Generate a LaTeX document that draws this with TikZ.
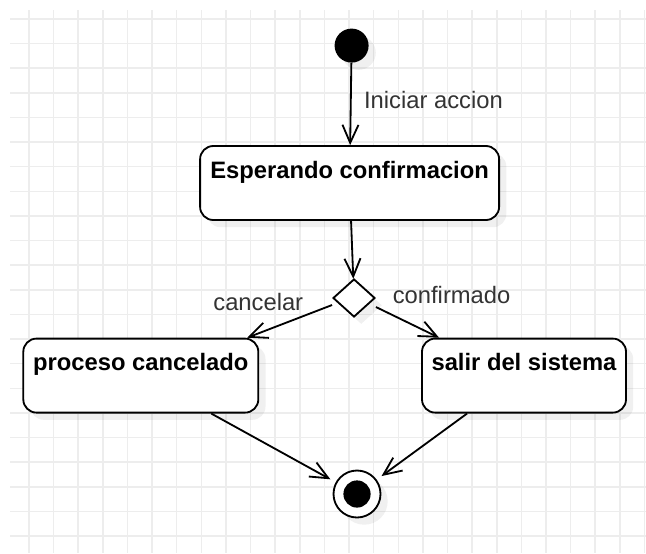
\documentclass[tikz,border=0pt]{standalone}
\usepackage{fontspec}
\setmainfont{Liberation Sans}
\usetikzlibrary{shapes.geometric, arrows.meta, shadows}

\begin{document}
\begin{tikzpicture}[
    shade/.style={drop shadow={shadow xshift=0.18cm, shadow yshift=-0.18cm, fill=black, opacity=0.06}},
    state/.style={rectangle, draw, line width=1.3pt, rounded corners=0.33cm, fill=white, minimum height=1.85cm, inner sep=0, text height=0.8cm, text depth=1.05cm, font=\fontsize{16.9}{20}\selectfont\bfseries, shade},
    decision/.style={diamond, draw, line width=1.3pt, fill=white, minimum width=1.05cm, minimum height=0.95cm, inner sep=0, shade},
    initial/.style={circle, fill=black, minimum size=0.85cm, inner sep=0, shade},
    final/.style={circle, draw, line width=1.3pt, fill=white, minimum size=1.175cm, inner sep=0, shade,
        path picture={\fill[black] (path picture bounding box.center) circle (0.34cm);}},
    flow/.style={draw, line width=1.3pt, -{Straight Barb[length=0.45cm, width=0.4cm]}},
    lbl/.style={inner sep=0, text=black!80, font=\fontsize{16.9}{20}\selectfont},
    gridline/.style={draw=black!7, line width=1.1pt}
]
    \useasboundingbox (0,0) rectangle (16.15,-13.825);
    \fill[white] (0,0) rectangle (16.15,-13.825);

    % GRID
    \foreach \k in {0,...,25}
        \draw[gridline] ({0.725+0.6155*\k},-0.25) -- ({0.725+0.6155*\k},-13.825);
    \foreach \k in {0,...,21}
        \draw[gridline] (0.25,{-0.475-0.6155*\k}) -- (16.15,{-0.475-0.6155*\k});

    % STATES
    \node (Inicio) [initial] at (8.79,-1.14) {};
    \node (Esperando) [state, minimum width=7.475cm] at (8.74,-4.575) {Esperando confirmacion};
    \node (Decision) [decision] at (8.85,-7.45) {};
    \node (Cancelado) [state, minimum width=5.875cm] at (3.52,-9.39) {proceso cancelado};
    \node (Salir) [state, minimum width=5.1cm] at (13.1,-9.39) {salir del sistema};
    \node (Fin) [final] at (8.925,-12.35) {};

    % TRANSITIONS
    \draw[flow] (Inicio) -- node[lbl, pos=0.45, anchor=west, xshift=0.31cm] {Iniciar accion} (Esperando);
    \draw[flow] (Esperando) -- (Decision);
    \draw[flow] ([yshift=-0.175cm]Decision.west) -- node[lbl, pos=0, anchor=east, xshift=-0.7cm, yshift=0.07cm] {cancelar} ([xshift=-0.3cm]Cancelado.north east);
    \draw[flow] ([yshift=-0.225cm]Decision.east) -- node[lbl, pos=0, anchor=west, xshift=0.4cm, yshift=0.3cm] {confirmado} ([xshift=0.45cm]Salir.north west);
    \draw[flow, shorten >=0.15cm] ([xshift=-1.2cm]Cancelado.south east) -- (Fin);
    \draw[flow, shorten >=0.15cm] ([xshift=1.15cm]Salir.south west) -- (Fin);
\end{tikzpicture}
\end{document}
